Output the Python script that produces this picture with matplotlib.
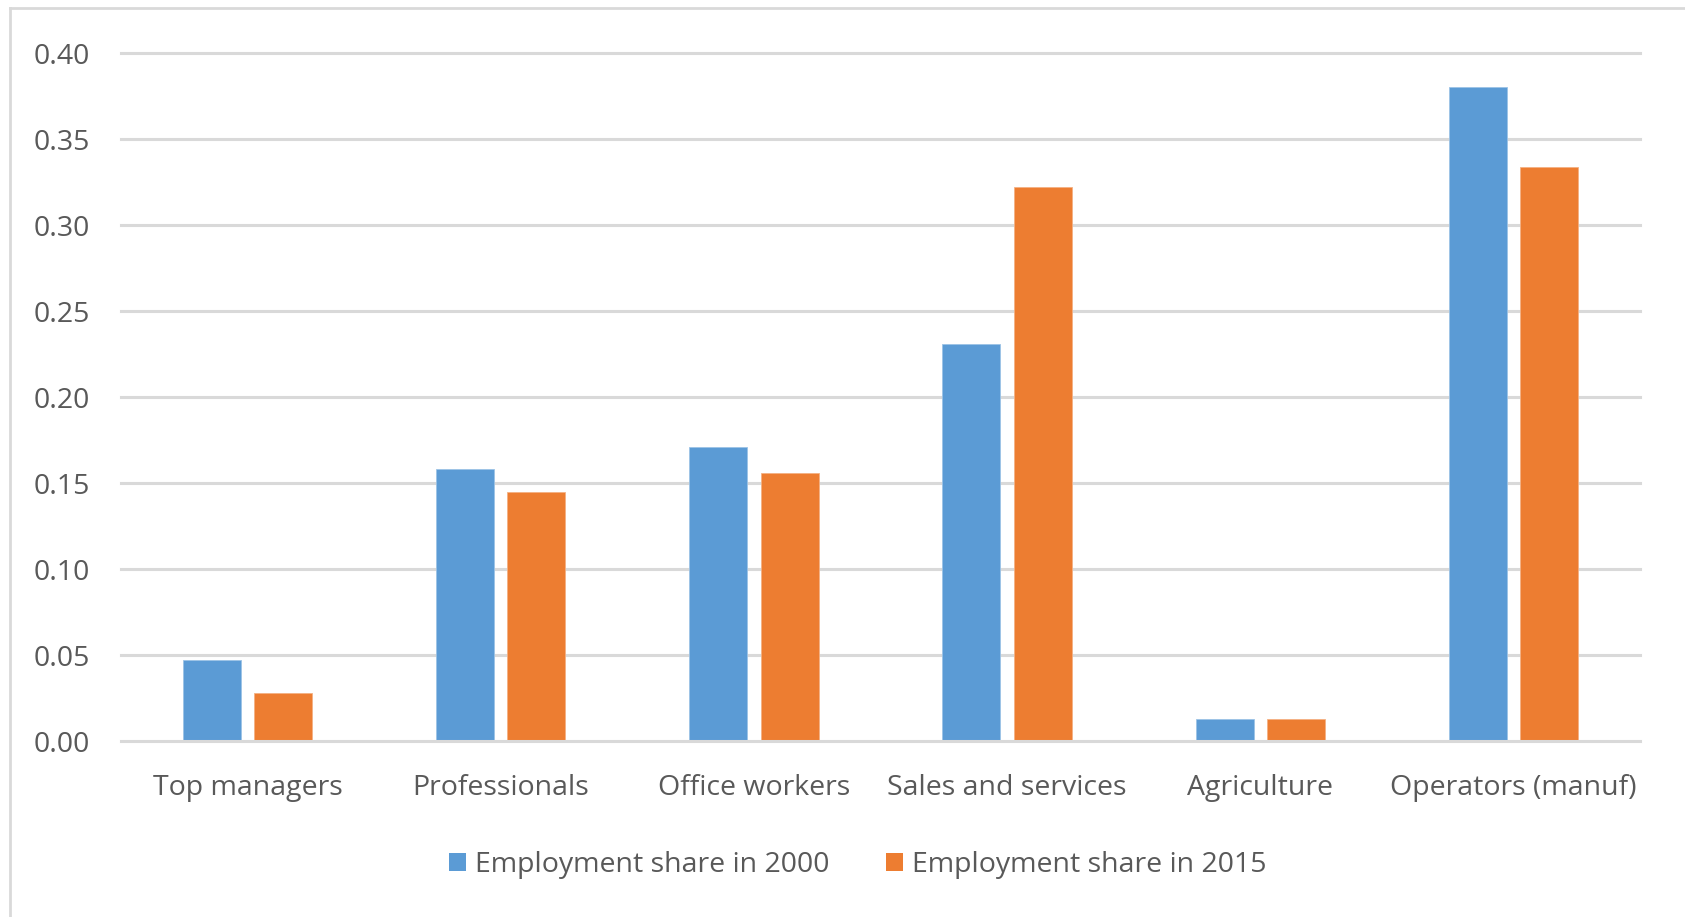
import matplotlib
matplotlib.use("Agg")
import matplotlib.pyplot as plt
from matplotlib.lines import Line2D
from matplotlib.patches import Patch
import numpy as np

categories = ["Top managers", "Professionals", "Office workers",
              "Sales and services", "Agriculture", "Operators (manuf)"]
share_2000 = [0.047, 0.158, 0.171, 0.231, 0.013, 0.380]
share_2015 = [0.028, 0.145, 0.156, 0.322, 0.013, 0.334]
series_labels = ["Employment share in 2000", "Employment share in 2015"]
y_ticks = [0.00, 0.05, 0.10, 0.15, 0.20, 0.25, 0.30, 0.35, 0.40]

BLUE = "#5B9BD5"
ORANGE = "#ED7D31"
GRID = "#D9D9D9"
TEXT = "#595959"
FONT = ["Open Sans", "DejaVu Sans"]
FS = 20.5

W, H = 1685, 917
fig = plt.figure(figsize=(W / 100, H / 100), dpi=100)
ax = fig.add_axes([121 / W, 1 - 741 / H, (1640 - 121) / W, (741 - 53) / H])

x = np.arange(len(categories))
bw = 0.229
off = 0.141
ax.bar(x - off, share_2000, width=bw, color=BLUE, edgecolor="#9CC3E6",
       linewidth=0.6, zorder=2)
ax.bar(x + off, share_2015, width=bw, color=ORANGE, edgecolor="#F4B183",
       linewidth=0.6, zorder=2)

ax.set_xlim(-0.5, len(categories) - 0.5)
ax.set_ylim(0, 0.40)
ax.set_yticks(y_ticks)
ax.set_yticklabels([f"{v:.2f}" for v in y_ticks], fontsize=FS,
                   color=TEXT, family=FONT)
ax.set_xticks(x)
ax.set_xticklabels(categories, fontsize=FS, color=TEXT, family=FONT)
ax.tick_params(axis="y", length=0, pad=22)
ax.tick_params(axis="x", length=0, pad=24)

for s in ax.spines.values():
    s.set_visible(False)
for v in y_ticks[1:]:
    ax.axhline(v, color=GRID, lw=2.2, zorder=1, clip_on=False)
ax.axhline(0, color=GRID, lw=2.2, zorder=3, clip_on=False)

handles = [Patch(facecolor=BLUE, edgecolor="none"),
           Patch(facecolor=ORANGE, edgecolor="none")]
fig.legend(handles, series_labels, loc="center",
           bbox_to_anchor=(0.509, 1 - 865 / H), ncol=2, frameon=False,
           handlelength=0.6, handleheight=0.6, handletextpad=0.3,
           columnspacing=2.0, prop={"family": FONT, "size": FS},
           labelcolor=TEXT)

# chart frame (left and top edges)
fig.add_artist(Line2D([10 / W, 10 / W], [0, 1 - 8 / H], transform=fig.transFigure,
                      color=GRID, lw=2))
fig.add_artist(Line2D([10 / W, 1], [1 - 8 / H, 1 - 8 / H], transform=fig.transFigure,
                      color=GRID, lw=2))

fig.savefig("out.png", dpi=100, facecolor="white")
